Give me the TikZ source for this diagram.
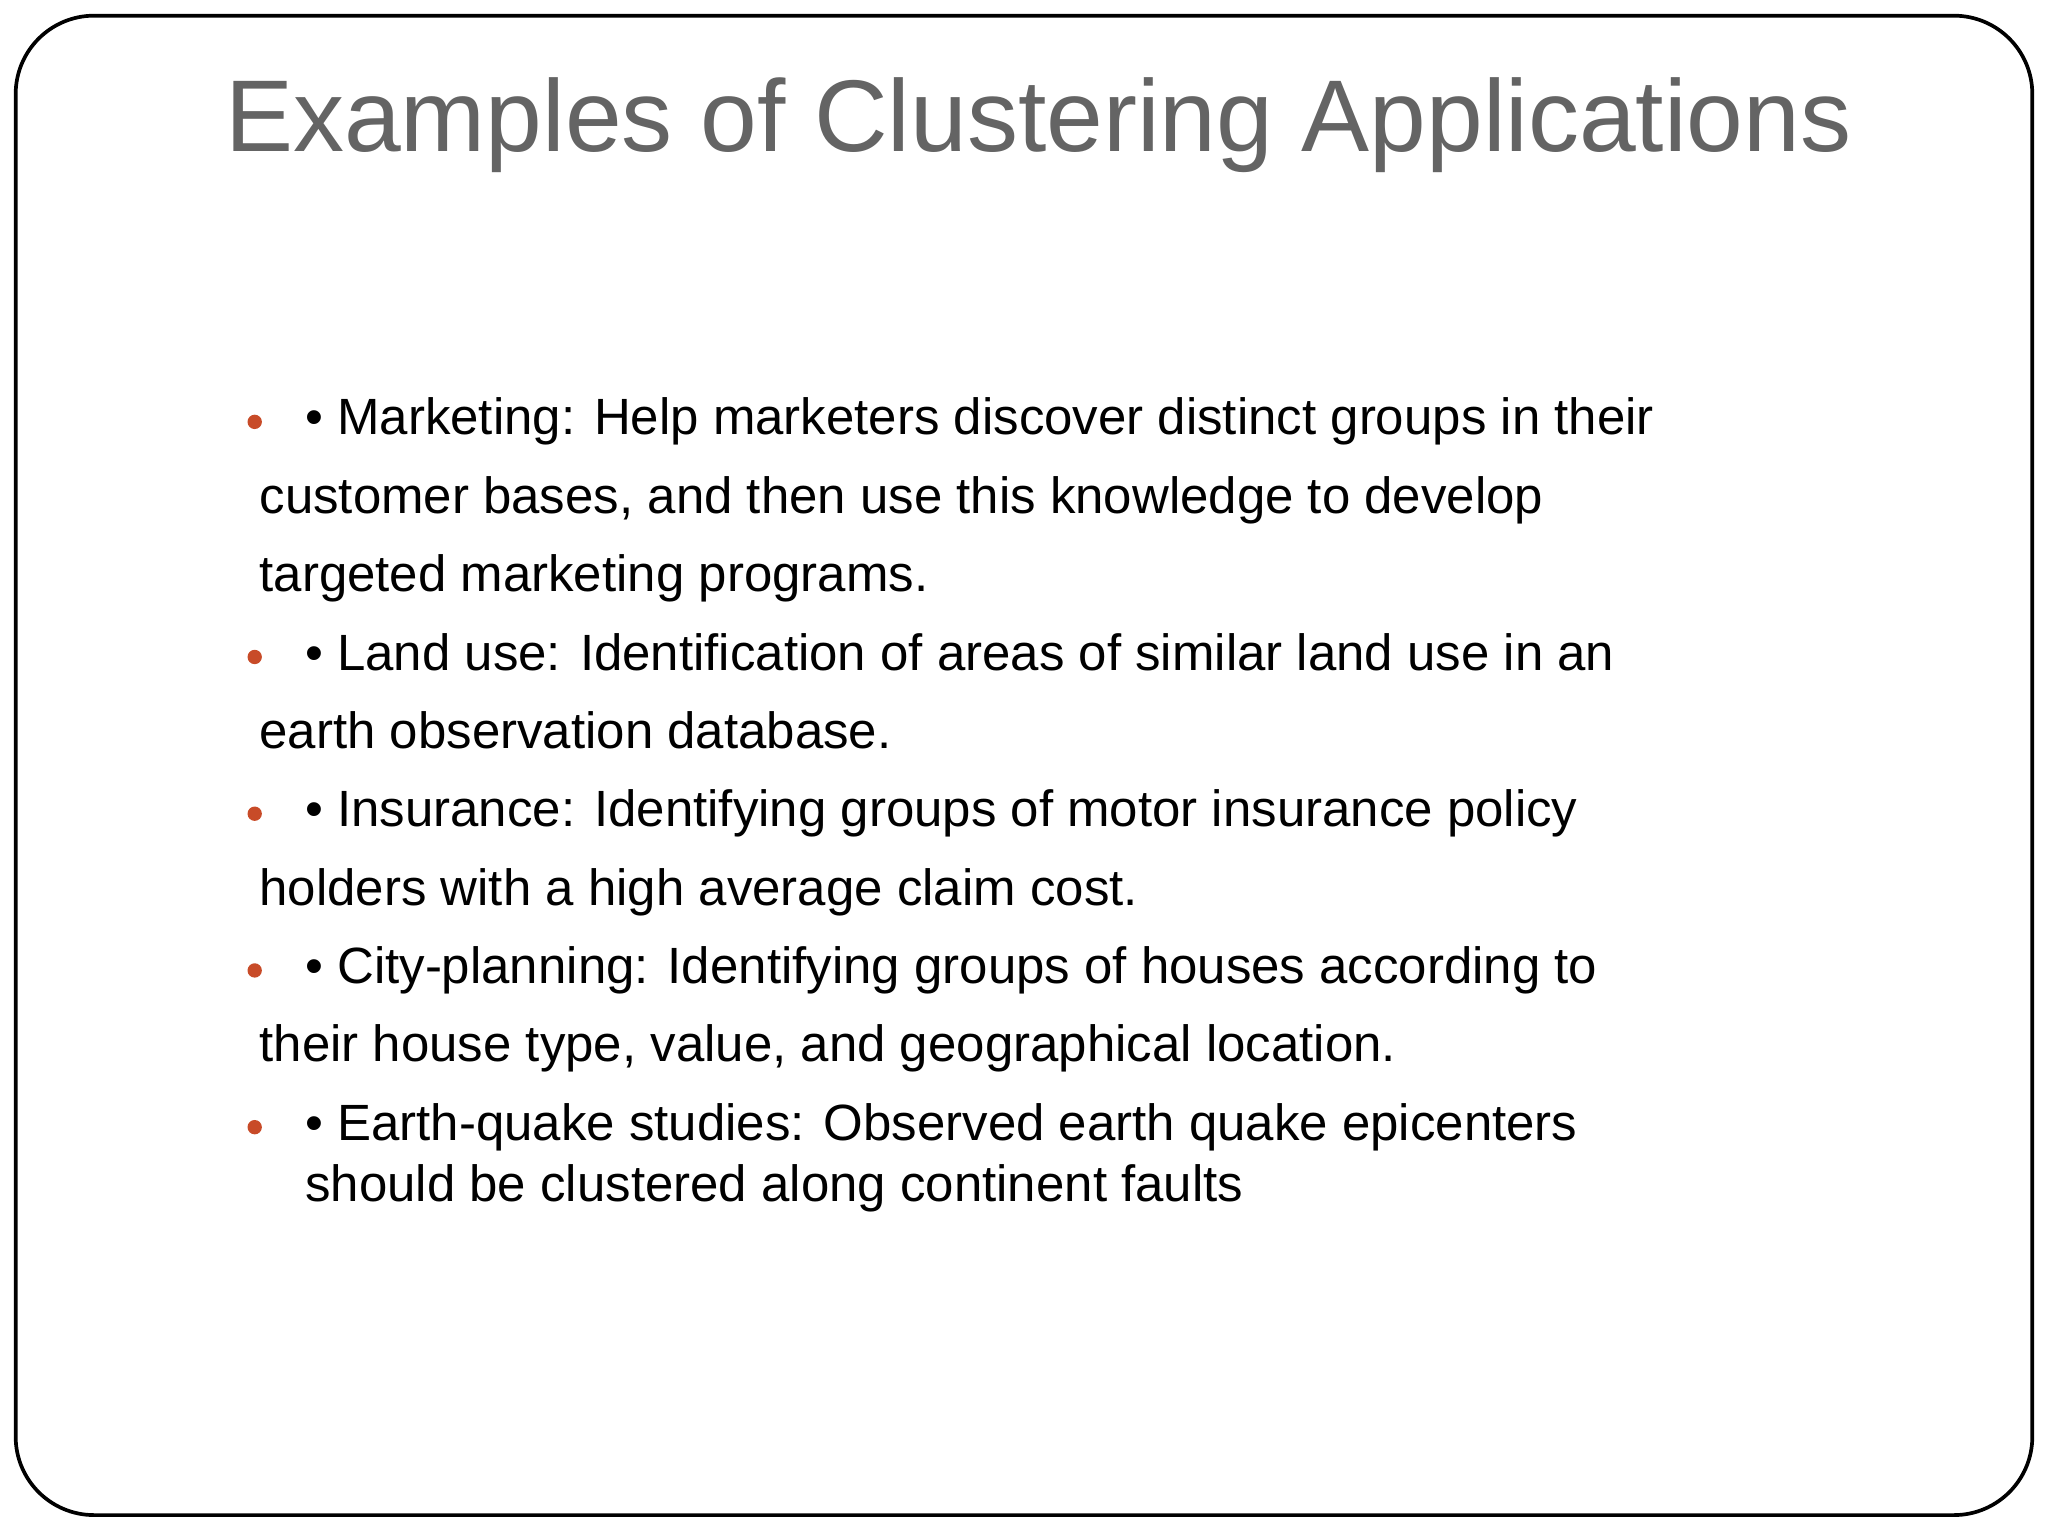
\documentclass[tikz,border=0pt]{standalone}
\usepackage{fontspec}
\setmainfont{Liberation Sans}
\definecolor{bul}{RGB}{200,75,40}
\definecolor{ttl}{RGB}{100,100,100}
\begin{document}
\begin{tikzpicture}[x=0.01cm,y=-0.01cm,
  body/.style={anchor=base west,inner sep=0,font=\fontsize{11.1}{13}\selectfont},
  dotb/.style={circle,fill=bul,inner sep=0,minimum size=0.11cm}]
\useasboundingbox (0,0) rectangle (1568,1176);
\draw[line width=0.8pt,rounded corners=0.6cm] (12,12) rectangle (1556,1160);
\node[anchor=base,inner sep=0,text=ttl,font=\fontsize{22.2}{26}\selectfont] (title) at (795,116) {Examples of Clustering Applications};
\foreach \y/\n in {323/a,503/b,623/c,743/d,863/e} \node[dotb] (d\n) at (195,\y) {};
\node[body] (l1) at (233,333) {• Marketing: Help marketers discover distinct groups in their};
\node[body] (l2) at (198,393) {customer bases, and then use this knowledge to develop};
\node[body] (l3) at (198,453) {targeted marketing programs.};
\node[body] (l4) at (233,513) {• Land use: Identification of areas of similar land use in an};
\node[body] (l5) at (198,573) {earth observation database.};
\node[body] (l6) at (233,633) {• Insurance: Identifying groups of motor insurance policy};
\node[body] (l7) at (198,693) {holders with a high average claim cost.};
\node[body] (l8) at (233,753) {• City-planning: Identifying groups of houses according to};
\node[body] (l9) at (198,813) {their house type, value, and geographical location.};
\node[body] (l10) at (233,873) {• Earth-quake studies: Observed earth quake epicenters};
\node[body] (l11) at (233,920) {should be clustered along continent faults};
\end{tikzpicture}
\end{document}
